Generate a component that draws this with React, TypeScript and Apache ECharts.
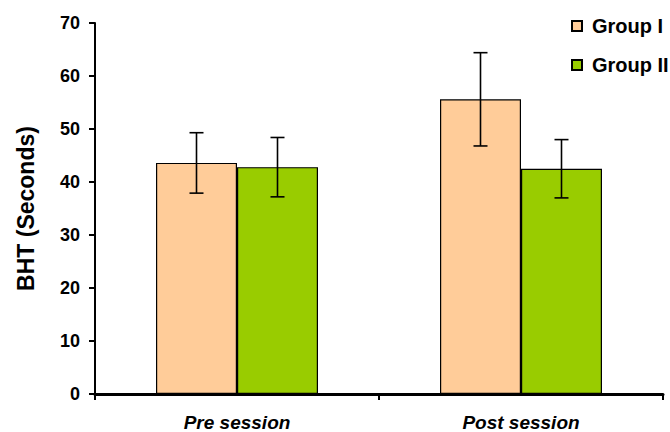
import React, { useEffect, useRef } from "react";
import * as echarts from "echarts";

const categories = ["Pre session", "Post session"];
const seriesNames = ["Group I", "Group II"];
const group1Means = [43.6, 55.6];
const group1Errors = [5.7, 8.8];
const group2Means = [42.8, 42.5];
const group2Errors = [5.6, 5.5];
const yTicks = [0, 10, 20, 30, 40, 50, 60, 70];

const colors = ["#FFCC99", "#99CC00"];
const BAR_W = 81;

export default function App() {
  const ref = useRef<HTMLDivElement>(null);
  useEffect(() => {
    if (!ref.current) return;
    const chart = echarts.init(ref.current, undefined, { renderer: "svg" });
    const means = [group1Means, group2Means];
    const errs = [group1Errors, group2Errors];
    const errData: number[][] = [];
    means.forEach((m, s) => {
      m.forEach((v, i) => {
        errData.push([i, v - errs[s][i], v + errs[s][i], s]);
      });
    });
    const font = "'Liberation Sans', Arial, sans-serif";
    chart.setOption({
      animation: false,
      textStyle: { fontFamily: font },
      grid: { left: 95, right: 7, top: 23, bottom: 38, containLabel: false },
      legend: {
        data: seriesNames,
        orient: "vertical",
        left: 566,
        top: 11,
        itemWidth: 10,
        itemHeight: 10,
        itemGap: 19,
        icon: "rect",
        textStyle: {
          fontSize: 20,
          fontWeight: "bold",
          color: "#000",
          fontFamily: font,
          padding: [0, 0, 0, 5],
        },
      },
      xAxis: {
        type: "category",
        data: categories,
        axisLine: { lineStyle: { color: "#000", width: 3 } },
        axisTick: { show: true, alignWithLabel: false, length: 6, lineStyle: { color: "#000", width: 2 } },
        axisLabel: {
          margin: 19,
          fontSize: 19,
          fontWeight: "bold",
          fontStyle: "italic",
          color: "#000",
          fontFamily: font,
        },
      },
      yAxis: {
        type: "value",
        min: yTicks[0],
        max: yTicks[yTicks.length - 1],
        interval: 10,
        name: "BHT (Seconds)",
        nameLocation: "middle",
        nameGap: 58,
        nameTextStyle: { fontSize: 23, fontWeight: "bold", color: "#000", fontFamily: font },
        splitLine: { show: false },
        axisLine: { show: true, lineStyle: { color: "#000", width: 2 } },
        axisTick: { show: true, length: 6, lineStyle: { color: "#000", width: 2 } },
        axisLabel: { margin: 15, fontSize: 18, fontWeight: "bold", color: "#000", fontFamily: font },
      },
      series: [
        {
          name: seriesNames[0],
          type: "bar",
          data: group1Means,
          barWidth: BAR_W,
          barGap: "0%",
          itemStyle: { color: colors[0], borderColor: "#000", borderWidth: 1.2 },
        },
        {
          name: seriesNames[1],
          type: "bar",
          data: group2Means,
          barWidth: BAR_W,
          barGap: "0%",
          itemStyle: { color: colors[1], borderColor: "#000", borderWidth: 1.2 },
        },
        {
          type: "custom",
          data: errData,
          encode: { x: 0, y: [1, 2] },
          z: 10,
          renderItem: (params: any, api: any) => {
            const cat = api.value(0);
            const s = api.value(3);
            const lo = api.coord([cat, api.value(1)]);
            const hi = api.coord([cat, api.value(2)]);
            const off = s === 0 ? -BAR_W / 2 : BAR_W / 2;
            const x = lo[0] + off;
            const cap = 7;
            const style = { stroke: "#000", lineWidth: 1.6 };
            return {
              type: "group",
              children: [
                { type: "line", shape: { x1: x, y1: lo[1], x2: x, y2: hi[1] }, style },
                { type: "line", shape: { x1: x - cap, y1: lo[1], x2: x + cap, y2: lo[1] }, style },
                { type: "line", shape: { x1: x - cap, y1: hi[1], x2: x + cap, y2: hi[1] }, style },
              ],
            };
          },
        },
      ],
    });
    return () => chart.dispose();
  }, []);
  return (
    <div
      ref={ref}
      style={{ position: "fixed", left: 0, top: 0, width: 670, height: 432, background: "#fff" }}
    />
  );
}
